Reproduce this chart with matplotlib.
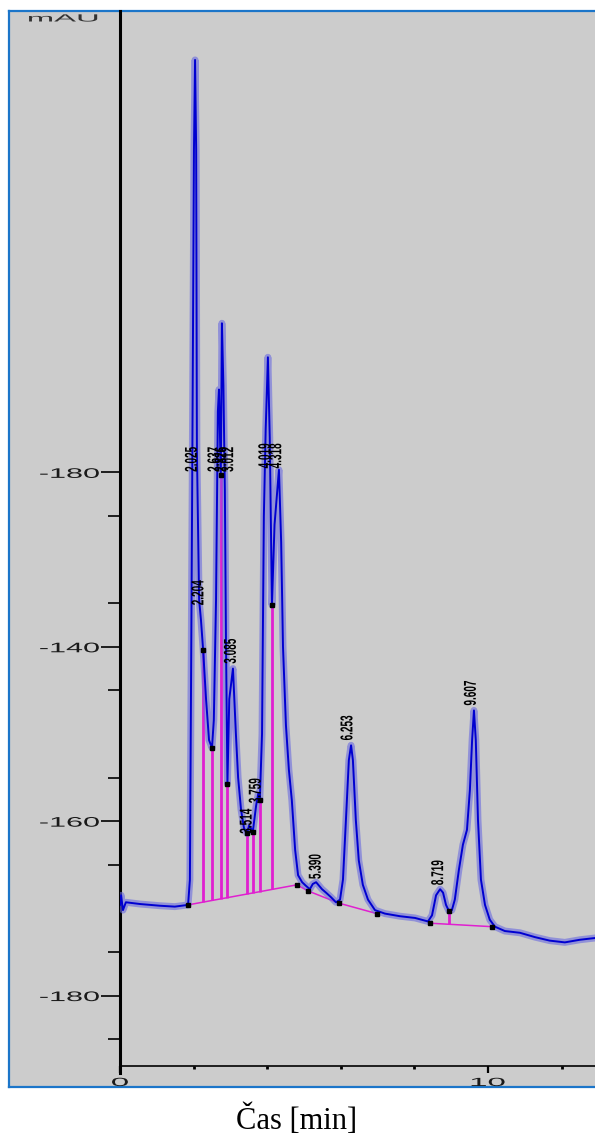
import numpy as np
import matplotlib
matplotlib.use('Agg')
import matplotlib.pyplot as plt
from matplotlib.patheffects import AbstractPathEffect
from matplotlib.transforms import Affine2D

# chromatogram trace (time in min, signal in mAU)
time = [0, 0.03, 0.08, 0.16, 0.54, 1.09, 1.49, 1.85, 1.90, 1.96, 2.01, 2.04, 2.07, 2.09,
        2.15, 2.20, 2.26, 2.34, 2.42, 2.50, 2.55, 2.61, 2.66, 2.69, 2.74, 2.77, 2.81, 2.85,
        2.88, 2.92, 2.97, 3.07, 3.15, 3.21, 3.29, 3.37, 3.45, 3.51, 3.61, 3.70, 3.76, 3.80,
        3.86, 3.91, 3.96, 4.02, 4.07, 4.13, 4.20, 4.32, 4.38, 4.43, 4.51, 4.59, 4.67, 4.76,
        4.84, 4.95, 5.05, 5.16, 5.24, 5.33, 5.41, 5.49, 5.60, 5.73, 5.87, 5.98, 6.06, 6.14,
        6.22, 6.28, 6.33, 6.41, 6.49, 6.60, 6.74, 6.93, 7.20, 7.61, 8.02, 8.37, 8.48, 8.59,
        8.70, 8.78, 8.86, 8.94, 9.02, 9.10, 9.21, 9.32, 9.43, 9.51, 9.57, 9.62, 9.67, 9.73,
        9.81, 9.92, 10.05, 10.19, 10.46, 10.87, 11.28, 11.68, 12.09, 12.50, 12.91]
signal = [-169.6, -168.5, -170.2, -169.3, -169.5, -169.7, -169.8, -169.6, -166.7, -123.2,
          -83.0, -72.7, -83.0, -117.4, -134.6, -136.9, -140.4, -146.1, -150.7, -151.6,
          -148.4, -134.6, -113.0, -110.5, -120.3, -102.9, -110.0, -122.0, -139.2, -155.7,
          -146.0, -142.5, -150.0, -155.0, -158.7, -160.8, -161.4, -160.5, -161.2, -158.2,
          -156.8, -157.6, -150.0, -125.0, -115.0, -106.8, -116.0, -135.2, -126.0, -119.7,
          -128.0, -140.0, -149.0, -154.1, -157.6, -163.3, -166.2, -167.0, -167.4, -167.8,
          -167.2, -167.0, -167.4, -167.8, -168.2, -168.7, -169.3, -169.0, -166.7, -159.9,
          -153.0, -151.3, -153.0, -159.9, -164.5, -167.3, -169.0, -170.2, -170.6, -170.9,
          -171.1, -171.5, -170.8, -168.5, -167.8, -168.2, -169.6, -170.3, -170.2, -169.0,
          -165.6, -162.7, -161.0, -156.4, -150.7, -147.3, -150.7, -159.9, -166.7, -169.6,
          -171.3, -172.1, -172.6, -172.8, -173.3, -173.7, -173.9, -173.6, -173.4]

# integration baselines
base1_t = [1.85, 4.81, 5.11, 5.95, 6.98]
base1_v = [-169.6, -167.3, -168.0, -169.4, -170.6]
base2_t = [8.42, 10.11]
base2_v = [-171.7, -172.1]

# peak split (drop) lines
split_t = [2.26, 2.50, 2.74, 2.92, 3.45, 3.61, 3.80, 4.13, 8.94]
split_top = [-140.4, -151.6, -120.3, -155.7, -161.4, -161.2, -157.6, -135.2, -170.3]

# peak labels (retention time, label bottom in mAU)
peak_rt = [2.025, 2.204, 2.637, 2.826, 3.012, 3.085, 3.514, 3.759, 4.019, 4.318,
           5.390, 6.253, 8.719, 9.607]
label_bottom = [-120.1, -135.4, -120.1, -120.1, -120.1, -142.1, -161.6, -158.1, -119.7,
                -119.7, -166.8, -150.9, -167.5, -146.9]

yticks = [-120, -140, -160, -180]
ytick_labels = ['-180', '-140', '-160', '-180']
xticks = [0, 10]


class Stretch(AbstractPathEffect):
    # squash / widen glyphs around their centre (the scan is distorted)
    def __init__(self, sx=1.0, sy=1.0):
        super().__init__()
        self.sx = sx
        self.sy = sy

    def draw_path(self, renderer, gc, tpath, affine, rgbFace=None):
        ext = tpath.get_extents()
        cx = (ext.x0 + ext.x1) / 2
        cy = (ext.y0 + ext.y1) / 2
        tr = Affine2D().translate(-cx, -cy).scale(self.sx, self.sy).translate(cx, cy)
        renderer.draw_path(gc, tpath, tr + affine, rgbFace)


W, H = 595, 1138
fig = plt.figure(figsize=(W / 100, H / 100), dpi=100)
fig.patch.set_facecolor('white')

# grey panel with blue frame
frame = fig.add_axes([9 / W, 1 - 1087 / H, 600 / W, (1087 - 11) / H])
frame.set_facecolor('#cccccc')
frame.set_xticks([])
frame.set_yticks([])
for s in frame.spines.values():
    s.set_color('#1b75c9')
    s.set_linewidth(1.6)

ax = fig.add_axes([120 / W, 1 - 1073 / H, (W - 120) / W, (1073 - 11) / H])
ax.patch.set_visible(False)
ax.set_xlim(0, 12.91)
ax.set_ylim(-188.88, -67.09)

ax.spines['top'].set_visible(False)
ax.spines['right'].set_visible(False)
ax.spines['left'].set_linewidth(2.2)
ax.spines['bottom'].set_linewidth(1.2)
ax.spines['bottom'].set_position(('data', -188.08))

mag = '#e020d0'
# baselines and drop lines
ax.plot(base1_t, base1_v, color=mag, lw=1.1, zorder=2)
ax.plot(base2_t, base2_v, color=mag, lw=1.1, zorder=2)
split_bot = [np.interp(t, base1_t, base1_v) if t < 8 else np.interp(t, base2_t, base2_v)
             for t in split_t]
ax.vlines(split_t, split_bot, split_top, color=mag, lw=2.0, zorder=2)

# trace with blurred halo
ax.plot(time, signal, color='#6a6ae0', lw=5.0, alpha=0.6, zorder=3, solid_joinstyle='round')
ax.plot(time, signal, color='#0000d0', lw=1.4, zorder=4, solid_joinstyle='round')

# event marks
ax.plot(base1_t + base2_t, base1_v + base2_v, 's', color='black', ms=2.2, zorder=5)
ax.plot(split_t, split_top, 's', color='black', ms=2.2, zorder=5)

for rt, yb in zip(peak_rt, label_bottom):
    t = ax.annotate(f'{rt:.3f}', (rt, yb), xytext=(-2, 0), textcoords='offset points',
                    rotation=90, ha='center', va='bottom', fontsize=8, fontweight='bold',
                    family='Liberation Sans', color='black', zorder=6)
    t.set_path_effects([Stretch(0.9, 1.55)])

# axes ticks
ax.set_yticks(yticks)
ax.set_yticklabels(ytick_labels)
ax.set_yticks([-185, -175, -165, -155, -145, -135, -125], minor=True)
ax.tick_params(axis='y', which='major', length=13.7, width=1.2, pad=12.7,
               labelsize=10, labelcolor='#1a1a1a', direction='out')
ax.tick_params(axis='y', which='minor', length=8.6, width=1.2, direction='out')
for lbl in ax.get_yticklabels():
    lbl.set_family('Liberation Sans')
    lbl.set_path_effects([Stretch(2.2, 1.0)])

ax.set_xticks(xticks)
ax.set_xticklabels([str(v) for v in xticks])
ax.set_xticks([2, 4, 6, 8, 12], minor=True)
ax.tick_params(axis='x', which='major', length=5, width=1.6, pad=2.9,
               labelsize=8.5, labelcolor='#1a1a1a', direction='out')
ax.tick_params(axis='x', which='minor', length=2.5, width=2, direction='out')
for lbl in ax.get_xticklabels():
    lbl.set_family('Liberation Sans')
    lbl.set_path_effects([Stretch(2.8, 1.0)])

mau = fig.text(63 / W, 1 - 18.5 / H, 'mAU', ha='center', va='center', fontsize=7.5,
               family='Liberation Sans', color='#333333')
mau.set_path_effects([Stretch(3.15, 1.0)])

fig.text(0.498, 1 - 1120 / H, 'Čas [min]', ha='center', va='center', fontsize=22,
         family='Liberation Serif', color='black')

fig.savefig('out.png', dpi=100)
